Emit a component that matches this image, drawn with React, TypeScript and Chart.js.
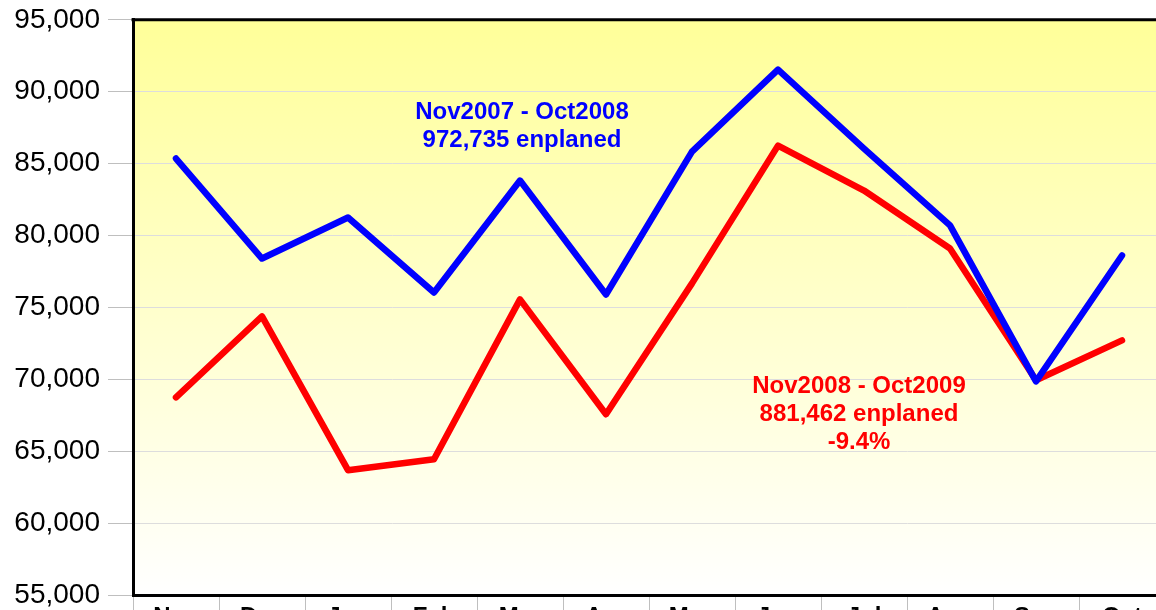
import React, { useEffect, useRef } from "react";
import { Chart, registerables } from "chart.js";

Chart.register(...registerables);

const months = ["Nov", "Dec", "Jan", "Feb", "Mar", "Apr", "May", "Jun", "Jul", "Aug", "Sep", "Oct"];
const series2008 = [85350, 78400, 81250, 76040, 83820, 75900, 85830, 91530, 86040, 80700, 69860, 78610];
const series2009 = [68750, 74375, 63680, 64440, 75560, 67570, 76670, 86250, 83125, 79100, 69930, 72710];
const label2008 = ["Nov2007 - Oct2008", "972,735 enplaned"];
const label2009 = ["Nov2008 - Oct2009", "881,462 enplaned", "-9.4%"];

const decor = {
  id: "decor",
  beforeDraw(chart: any) {
    const { ctx, chartArea: a } = chart;
    ctx.save();
    const g = ctx.createLinearGradient(0, a.top, 0, a.bottom);
    g.addColorStop(0, "#FFFF99");
    g.addColorStop(1, "#FFFFFF");
    ctx.fillStyle = g;
    ctx.fillRect(a.left, a.top, a.right - a.left, a.bottom - a.top);
    ctx.restore();
  },
  afterDatasetsDraw(chart: any) {
    const { ctx, chartArea: a, scales } = chart;
    ctx.save();
    ctx.strokeStyle = "#000";
    ctx.lineWidth = 3;
    ctx.beginPath();
    ctx.moveTo(a.left - 1.5, a.top);
    ctx.lineTo(a.right, a.top);
    ctx.stroke();
    ctx.font = "bold 24px 'Liberation Sans', Arial, sans-serif";
    ctx.textAlign = "center";
    ctx.textBaseline = "middle";
    const x = scales.x;
    const y = scales.y;
    ctx.fillStyle = "#0000FF";
    const bx = x.getPixelForValue(4) + 2;
    const by = y.getPixelForValue(88540);
    label2008.forEach((t, i) => ctx.fillText(t, bx, by + i * 28));
    ctx.fillStyle = "#FF0000";
    const rx = x.getPixelForValue(8) - 5;
    const ry = y.getPixelForValue(69514);
    label2009.forEach((t, i) => ctx.fillText(t, rx, ry + i * 28));
    ctx.restore();
  },
};

export default function App() {
  const ref = useRef<HTMLCanvasElement>(null);
  useEffect(() => {
    const chart = new Chart(ref.current!, {
      type: "line",
      data: {
        labels: months,
        datasets: [
          {
            data: series2008,
            borderColor: "#0000FF",
            borderWidth: 6.5,
            pointRadius: 0,
            borderCapStyle: "round",
            borderJoinStyle: "round",
            tension: 0,
          },
          {
            data: series2009,
            borderColor: "#FF0000",
            borderWidth: 6.5,
            pointRadius: 0,
            borderCapStyle: "round",
            borderJoinStyle: "round",
            tension: 0,
          },
        ],
      },
      options: {
        animation: false,
        responsive: false,
        maintainAspectRatio: false,
        layout: { padding: { top: 16, right: 0, left: 0, bottom: 0 } },
        plugins: { legend: { display: false }, tooltip: { enabled: false } },
        scales: {
          x: {
            offset: true,
            grid: {
              offset: true,
              drawOnChartArea: false,
              color: "#bfbfbf",
              tickLength: 16,
            },
            border: { color: "#000", width: 3 },
            ticks: {
              color: "#000",
              font: { family: "'Liberation Sans', Arial, sans-serif", size: 24, weight: "bold" },
              padding: -8,
              maxRotation: 0,
              autoSkip: false,
            },
            afterFit(s: any) {
              s.height = 50;
            },
          },
          y: {
            min: 55000,
            max: 95000,
            ticks: {
              stepSize: 5000,
              color: "#000",
              font: { family: "'Liberation Sans', Arial, sans-serif", size: 28 },
              padding: 8,
              callback: (v: any) => Number(v).toLocaleString("en-US"),
            },
            grid: { color: "#dddddd", tickColor: "#bfbfbf", tickLength: 25, lineWidth: 1 },
            border: { color: "#000", width: 3 },
            afterFit(s: any) {
              s.width = 133;
            },
          },
        },
      },
      plugins: [decor],
    });
    return () => chart.destroy();
  }, []);
  return (
    <div style={{ position: "fixed", left: 0, top: 0, width: 1156, height: 610, overflow: "hidden", background: "#fff" }}>
      <canvas ref={ref} width={1165} height={650} style={{ display: "block", width: 1165, height: 650, marginTop: -5 }} />
    </div>
  );
}
